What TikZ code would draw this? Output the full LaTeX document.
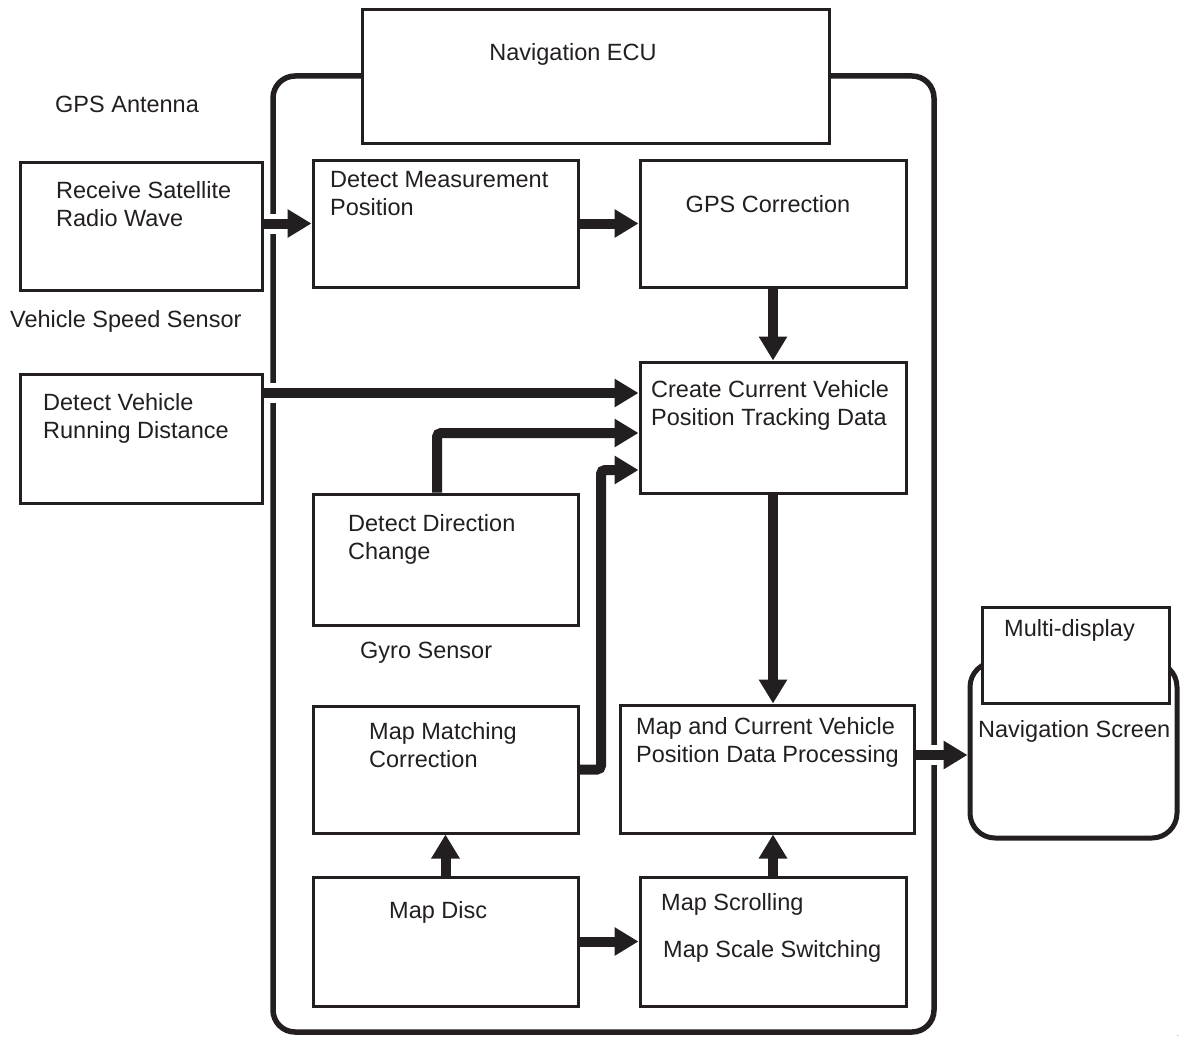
\documentclass[tikz,border=0pt]{standalone}
\usepackage{fontspec}
\setmainfont{Liberation Sans}
\usetikzlibrary{arrows.meta,calc}
\definecolor{ink}{HTML}{231F20}
\begin{document}
\begin{tikzpicture}[x=1pt,y=-1pt,
  font=\fontsize{23.5}{28.3}\selectfont,
  box/.style={draw=ink, line width=3pt, fill=white, inner sep=0pt, rectangle},
  frame/.style={draw=ink, line width=5.5pt, rounded corners=22pt, inner sep=0pt, rectangle},
  txt/.style={inner sep=0pt, anchor=base west, text=ink},
  mtxt/.style={inner sep=0pt, anchor=north west, align=left, text=ink},
  arr/.style={draw=ink, line width=10pt, -{Triangle[length=24pt,width=27pt]}},
  gapfill/.style={fill=white}
]
\useasboundingbox (0,0) rectangle (1181,1041);

% Navigation ECU frame
\node[frame, minimum width=661pt, minimum height=956pt] (ecu) at (603.5,554) {};
\node[box, minimum width=467pt, minimum height=133pt] (ecubox) at (595.5,76.5) {};

% boxes
\node[box, minimum width=242pt, minimum height=128pt] (rsat) at (141,226) {};
\node[box, minimum width=265pt, minimum height=127pt] (dmp) at (445.5,223.5) {};
\node[box, minimum width=266pt, minimum height=127pt] (gpsc) at (773,223.5) {};
\node[box, minimum width=242pt, minimum height=129pt] (dvrd) at (141,438.5) {};
\node[box, minimum width=266pt, minimum height=131pt] (ccv) at (773,427.5) {};
\node[box, minimum width=265pt, minimum height=131pt] (ddc) at (445.5,559.5) {};
\node[box, minimum width=265pt, minimum height=127pt] (mmc) at (445.5,769.5) {};
\node[box, minimum width=294pt, minimum height=128pt] (mcp) at (767,769) {};
\node[box, minimum width=265pt, minimum height=129pt] (mdisc) at (445.5,941.5) {};
\node[box, minimum width=266pt, minimum height=129pt] (mscr) at (773,941.5) {};

% navigation screen
\node[frame, line width=5pt, rounded corners=25pt, minimum width=207pt, minimum height=176pt] (navscr) at (1073.5,750) {};
\node[box, minimum width=187pt, minimum height=96pt] (multi) at (1075.5,655) {};

% texts
\node[txt, anchor=base] (tecu) at (573,60) {Navigation ECU};
\node[txt] (tgps) at (55,113) {GPS Antenna};
\node[mtxt] (trsat) at (56,181) {Receive Satellite\\Radio Wave};
\node[mtxt] (tdmp) at (330,171) {Detect Measurement\\Position};
\node[txt, anchor=base] (tgpsc) at (768,212) {GPS Correction};
\node[txt] (tvss) at (10,327) {Vehicle Speed Sensor};
\node[mtxt] (tdvrd) at (43,393) {Detect Vehicle\\Running Distance};
\node[mtxt] (tccv) at (651,380) {Create Current Vehicle\\Position Tracking Data};
\node[mtxt] (tddc) at (348,514) {Detect Direction\\Change};
\node[txt] (tgyro) at (360,658) {Gyro Sensor};
\node[mtxt] (tmmc) at (369,722) {Map Matching\\Correction};
\node[mtxt] (tmcp) at (636,717) {Map and Current Vehicle\\Position Data Processing};
\node[txt] (tmulti) at (1004,636) {Multi-display};
\node[txt] (tnavscr) at (978,737) {Navigation Screen};
\node[txt] (tmdisc) at (389,918) {Map Disc};
\node[txt] (tmscr1) at (661,910) {Map Scrolling};
\node[txt] (tmscr2) at (663,957) {Map Scale Switching};
\node[inner sep=0pt, text=ink, font=\fontsize{6}{6}\selectfont] (dot) at (1178,1036) {.};

% helper coordinates for connector heights
\coordinate (y1) at (0,393);
\coordinate (y2) at (0,433);
\coordinate (y3) at (0,470);
\coordinate (y4) at (0,755);
\coordinate (xm) at (601,0);
\coordinate (xd) at (437,0);

% gaps in the ECU frame where arrows cross
\fill[gapfill] ($(ecu.west |- dmp.east)+(-6,-10)$) rectangle ++(12,20);
\fill[gapfill] ($(ecu.west |- y1)+(-6,-10)$) rectangle ++(12,20);
\fill[gapfill] ($(ecu.east |- y4)+(-6,-10)$) rectangle ++(12,20);

% connectors
\draw[arr] (rsat.east |- dmp.east) -- (dmp.west);
\draw[arr] (dmp.east) -- (gpsc.west);
\draw[arr] (gpsc.south) -- (ccv.north);
\draw[arr] (dvrd.east |- y1) -- (ccv.west |- y1);
\draw[arr, rounded corners=4pt] (xd |- ddc.north) |- (ccv.west |- y2);
\draw[arr, rounded corners=4pt] (mmc.east) -- (xm |- mmc.east) |- (ccv.west |- y3);
\draw[arr] (ccv.south) -- (ccv.south |- mcp.north);
\draw[arr] (mcp.east |- y4) -- (navscr.west |- y4);
\draw[arr] (mdisc.north) -- (mmc.south);
\draw[arr] (mdisc.east) -- (mscr.west);
\draw[arr] (mscr.north) -- (mscr.north |- mcp.south);
\end{tikzpicture}
\end{document}
